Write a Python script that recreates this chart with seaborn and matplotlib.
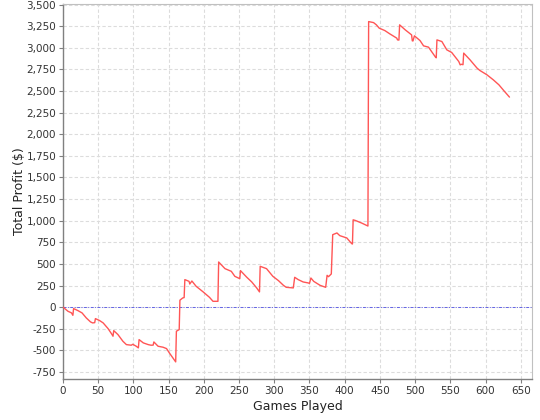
import matplotlib
matplotlib.use('Agg')
import matplotlib.pyplot as plt
import seaborn as sns
from matplotlib.ticker import FuncFormatter, MultipleLocator

games = [0, 7, 12, 14, 15, 21, 27, 33, 39, 42, 45, 46, 52, 57, 64, 69, 71, 72, 78, 85,
         90, 97, 99, 104, 107, 108, 114, 121, 125, 128, 129, 135, 142, 147, 151, 156, 160, 161, 165, 166,
         170, 172, 173, 179, 180, 183, 189, 199, 208, 213, 220, 221, 230, 239, 244, 251, 252, 261, 268, 275,
         279, 280, 289, 298, 306, 313, 317, 327, 329, 334, 341, 348, 350, 352, 356, 365, 373, 375, 377, 381,
         383, 389, 393, 403, 410, 411, 412, 415, 424, 432, 433, 434, 441, 445, 449, 457, 464, 474, 475, 477,
         478, 486, 495, 496, 497, 499, 507, 512, 519, 529, 530, 531, 538, 545, 552, 562, 564, 566, 568, 569,
         578, 588, 592, 602, 611, 619, 627, 634]
profit = [0, -48, -67, -95, -17, -40, -67, -125, -171, -183, -180, -133, -156, -183, -249, -310, -337, -272, -318, -395,
          -434, -441, -430, -453, -472, -376, -414, -434, -441, -440, -403, -453, -464, -480, -530, -588, -634, -279, -260, 80,
          106, 110, 318, 298, 267, 302, 241, 176, 113, 67, 67, 522, 445, 414, 356, 329, 422, 345, 291, 222,
          176, 472, 445, 356, 306, 252, 229, 222, 345, 318, 291, 280, 275, 337, 298, 252, 229, 368, 352, 384,
          838, 858, 827, 800, 734, 730, 1010, 1003, 973, 942, 938, 3304, 3292, 3266, 3228, 3200, 3162, 3112, 3092, 3090,
          3266, 3208, 3150, 3081, 3080, 3139, 3084, 3023, 3008, 2892, 2885, 3092, 3073, 2977, 2946, 2842, 2803, 2810, 2805, 2939,
          2861, 2765, 2738, 2688, 2630, 2572, 2495, 2430]

sns.set_style('white')
plt.rcParams['font.family'] = ['DejaVu Sans']

fig = plt.figure(figsize=(5.4, 4.2), dpi=100)
ax = fig.add_axes([0.1167, 0.0976, 0.9852 - 0.1167, 0.990 - 0.0976])

ax.axhline(0, color='#6464e6', lw=0.7, ls=(0, (3, 1.5, 1, 1.5)), zorder=2)
sns.lineplot(x=games, y=profit, color='#ff5555', lw=1.0, estimator=None, ax=ax, zorder=3)

ax.set_xlim(0, 666)
ax.set_ylim(-832, 3505)
ax.xaxis.set_major_locator(MultipleLocator(50))
ax.yaxis.set_major_locator(MultipleLocator(250))
ax.yaxis.set_major_formatter(FuncFormatter(lambda v, p: f'{int(round(v)):,}'))

ax.grid(True, color='#dcdcdc', ls=(0, (3, 2)), lw=0.8)
ax.set_axisbelow(True)
for side in ['top', 'right']:
    ax.spines[side].set_color('#c0c0c0')
    ax.spines[side].set_linewidth(0.8)
for side in ['left', 'bottom']:
    ax.spines[side].set_color('#808080')
    ax.spines[side].set_linewidth(1.0)
ax.tick_params(axis='both', which='major', length=3, width=0.8, color='#808080',
               labelsize=7.5, labelcolor='#333333', pad=2, direction='out')
ax.tick_params(left=True, bottom=True)

ax.set_xlabel('Games Played', fontsize=9, color='#222222', labelpad=3)
ax.set_ylabel('Total Profit ($)', fontsize=9, color='#222222')
ax.yaxis.set_label_coords(-0.078, 0.5)

fig.savefig('out.png', dpi=100)
